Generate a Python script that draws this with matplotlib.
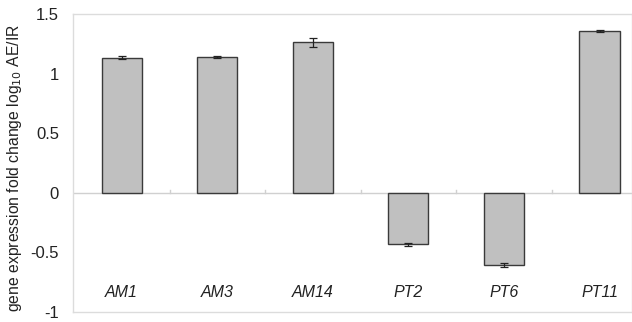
import numpy as np
import matplotlib.pyplot as plt

plt.rcParams['font.family'] = ['Liberation Sans', 'DejaVu Sans']

genes = ["AM1", "AM3", "AM14", "PT2", "PT6", "PT11"]
fold_change = [1.135, 1.143, 1.262, -0.432, -0.606, 1.357]
err = [0.012, 0.008, 0.04, 0.015, 0.018, 0.008]

fig = plt.figure(figsize=(6.32, 3.22), dpi=100)
ax = fig.add_axes([73 / 632, 10 / 322, 559 / 632, 298 / 322])

x = np.arange(len(genes))
ax.bar(x, fold_change, width=0.42, color="#c0c0c0", edgecolor="#3a3a3a",
       linewidth=1.0, zorder=3)
ax.errorbar(x, fold_change, yerr=err, fmt="none", ecolor="#222222",
            elinewidth=0.9, capsize=3, capthick=0.9, zorder=4)

# zero line with small marks between categories
ax.axhline(0, color="#d0d0d0", linewidth=1.0, zorder=2)
for xm in x[:-1] + 0.5:
    ax.plot([xm, xm], [0, 0.02], color="#d0d0d0", linewidth=1.0, zorder=2)

for xi, g in zip(x, genes):
    ax.text(xi, -0.84, g, ha="center", va="center", style="italic",
            fontsize=11.5, color="#222222")

ax.set_xlim(-0.51, 5.34)
ax.set_ylim(-1, 1.5)
ax.set_yticks([-1, -0.5, 0, 0.5, 1, 1.5])
ax.set_yticklabels(["-1", "-0.5", "0", "0.5", "1", "1.5"])
ax.set_xticks([])
ax.tick_params(axis="y", length=0, pad=10, labelsize=12, labelcolor="#222222")
for s in ax.spines.values():
    s.set_color("#dcdcdc")
    s.set_linewidth(1.0)

ax.set_ylabel("gene expression fold change log$_{10}$ AE/IR", fontsize=11.3,
              color="#222222")
ax.yaxis.set_label_coords(-0.088, 0.485)

fig.savefig("out.png", dpi=100)
